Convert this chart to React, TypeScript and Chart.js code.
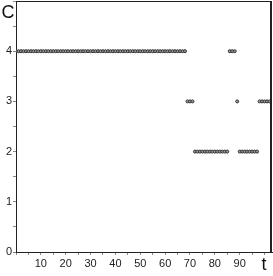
import React, { useEffect, useRef } from "react";
import { Chart, registerables } from "chart.js";

Chart.register(...registerables);

// time steps and class values
const tValues: number[] = [
  0, 1, 2, 3, 4, 5, 6, 7, 8, 9, 10, 11, 12, 13, 14, 15, 16, 17, 18, 19,
  20, 21, 22, 23, 24, 25, 26, 27, 28, 29, 30, 31, 32, 33, 34, 35, 36, 37, 38, 39,
  40, 41, 42, 43, 44, 45, 46, 47, 48, 49, 50, 51, 52, 53, 54, 55, 56, 57, 58, 59,
  60, 61, 62, 63, 64, 65, 66, 67, 68,
  69, 70, 71,
  72, 73, 74, 75, 76, 77, 78, 79, 80, 81, 82, 83, 84, 85,
  86, 87, 88,
  89,
  90, 91, 92, 93, 94, 95, 96, 97,
  98, 99, 100, 101, 102, 103,
];
const cValues: number[] = [
  4, 4, 4, 4, 4, 4, 4, 4, 4, 4, 4, 4, 4, 4, 4, 4, 4, 4, 4, 4,
  4, 4, 4, 4, 4, 4, 4, 4, 4, 4, 4, 4, 4, 4, 4, 4, 4, 4, 4, 4,
  4, 4, 4, 4, 4, 4, 4, 4, 4, 4, 4, 4, 4, 4, 4, 4, 4, 4, 4, 4,
  4, 4, 4, 4, 4, 4, 4, 4, 4,
  3, 3, 3,
  2, 2, 2, 2, 2, 2, 2, 2, 2, 2, 2, 2, 2, 2,
  4, 4, 4,
  3,
  2, 2, 2, 2, 2, 2, 2, 2,
  3, 3, 3, 3, 3, 3,
];
const xTickLabels: number[] = [10, 20, 30, 40, 50, 60, 70, 80, 90];
const yTickLabels: number[] = [0, 1, 2, 3, 4];
const yAxisTitle = "C";
const xAxisTitle = "t";

function zeroPad(scale: any) {
  scale.paddingTop = 0;
  scale.paddingBottom = 0;
  scale.paddingLeft = 0;
  scale.paddingRight = 0;
}

export default function App() {
  const ref = useRef<HTMLCanvasElement | null>(null);
  useEffect(() => {
    document.body.style.margin = "0";
    const canvas = ref.current!;
    const framePlugin = {
      id: "frame",
      afterDraw(chart: any) {
        const { ctx, chartArea } = chart;
        ctx.save();
        ctx.strokeStyle = "#222";
        ctx.lineWidth = 1;
        ctx.beginPath();
        ctx.moveTo(chartArea.left, chartArea.top + 0.5);
        ctx.lineTo(chartArea.right, chartArea.top + 0.5);
        ctx.stroke();
        ctx.lineWidth = 2;
        ctx.beginPath();
        ctx.moveTo(chartArea.right - 1, chartArea.top);
        ctx.lineTo(chartArea.right - 1, chartArea.bottom);
        ctx.stroke();
        ctx.fillStyle = "#111";
        ctx.font = "18px 'Liberation Sans', Arial, sans-serif";
        ctx.textAlign = "center";
        ctx.textBaseline = "middle";
        ctx.fillText(yAxisTitle, 8, 13);
        ctx.fillText(xAxisTitle, 264, 265);
        ctx.restore();
      },
    };
    const chart = new Chart(canvas, {
      type: "scatter",
      data: {
        datasets: [
          {
            data: tValues.map((t, i) => ({ x: t, y: cValues[i] })),
            pointStyle: "circle",
            pointRadius: 1.5,
            borderWidth: 1,
            borderColor: "#333",
            backgroundColor: "#999",
          },
        ],
      },
      options: {
        animation: false,
        responsive: false,
        events: [],
        layout: { autoPadding: false, padding: { top: 1, right: 1, left: 0, bottom: 0 } },
        plugins: { legend: { display: false }, tooltip: { enabled: false } },
        scales: {
          x: {
            type: "linear",
            min: 0,
            max: 103,
            afterFit(scale: any) {
              scale.height = 24;
              zeroPad(scale);
            },
            border: { display: true, color: "#222", width: 1 },
            grid: { drawOnChartArea: false, tickLength: 3, color: "#888" },
            ticks: {
              stepSize: 5,
              includeBounds: false,
              autoSkip: false,
              maxRotation: 0,
              padding: 2,
              color: "#222",
              font: { size: 11, family: "'Liberation Sans', Arial, sans-serif" },
              callback: (v: any) => (xTickLabels.includes(Number(v)) ? String(v) : ""),
            },
          },
          y: {
            type: "linear",
            min: 0,
            max: 5,
            afterFit(scale: any) {
              scale.width = 16;
              zeroPad(scale);
            },
            border: { display: true, color: "#222", width: 1 },
            grid: { drawOnChartArea: false, tickLength: 3, color: "#888" },
            ticks: {
              stepSize: 0.5,
              autoSkip: false,
              padding: 1,
              color: "#222",
              font: { size: 11, family: "'Liberation Sans', Arial, sans-serif" },
              callback: (v: any) => (yTickLabels.includes(Number(v)) ? String(v) : ""),
            },
          },
        },
      },
      plugins: [framePlugin],
    } as any);
    return () => chart.destroy();
  }, []);
  return (
    <div style={{ position: "absolute", left: 0, top: 0, width: 273, height: 276 }}>
      <canvas ref={ref} width={273} height={276} style={{ width: 273, height: 276, display: "block" }} />
    </div>
  );
}
